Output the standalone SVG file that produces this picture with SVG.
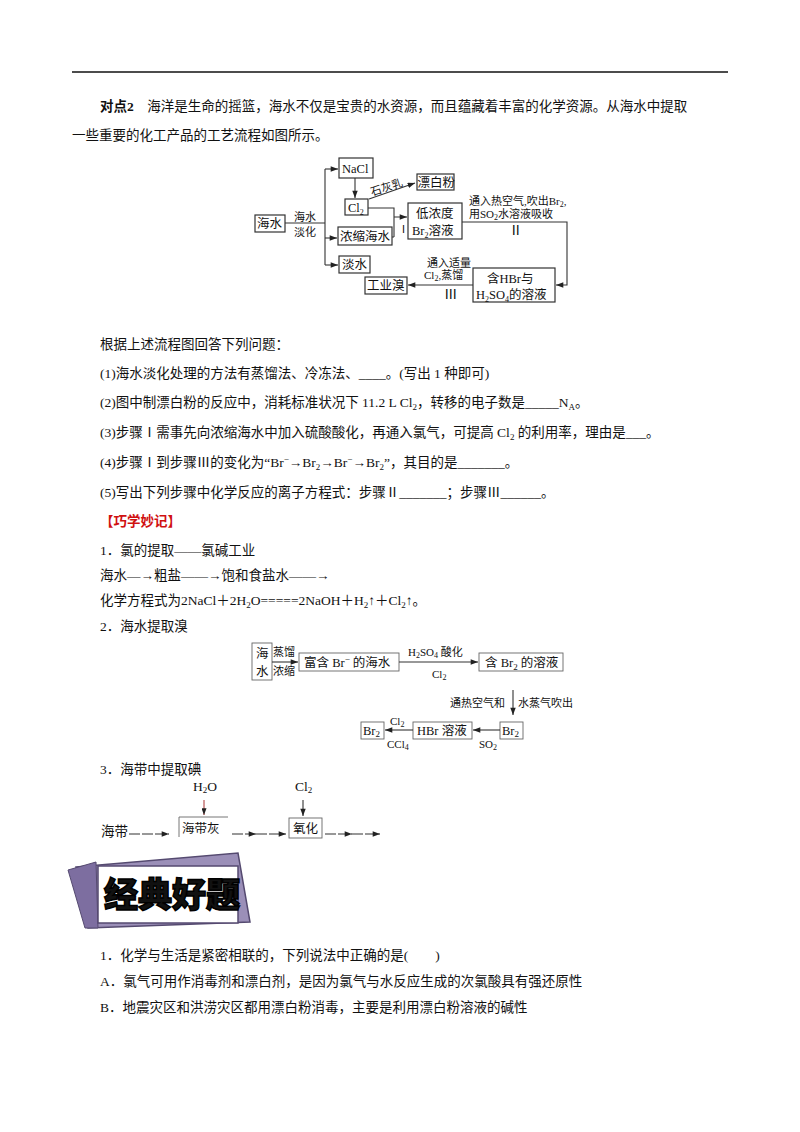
<svg xmlns="http://www.w3.org/2000/svg" width="800" height="1132" viewBox="0 0 800 1132">
<defs>
<marker id="a" viewBox="0 0 8 6" refX="8" refY="3" markerWidth="7" markerHeight="5" orient="auto"><path d="M0,0 L8,3 L0,6 z" fill="#222"/></marker>
<style>
text{font-family:"Liberation Serif","Noto Sans CJK SC",serif;fill:#111}
.t{font-size:13.5px}
.n{font-size:12.5px}
.s{font-size:11px}
.b{fill:#fff;stroke:#333;stroke-width:1.2}
.l{fill:none;stroke:#333;stroke-width:1.1}
.g{fill:none;stroke:#666;stroke-width:0.9}
</style>
</defs>
<rect width="800" height="1132" fill="#fff"/>
<line x1="72" y1="72" x2="728" y2="72" stroke="#111" stroke-width="1.3"/>
<text class="t" x="100" y="111"><tspan font-weight="bold">对点2</tspan>　海洋是生命的摇篮，海水不仅是宝贵的水资源，而且蕴藏着丰富的化学资源。从海水中提取</text>
<text class="t" x="72" y="140">一些重要的化工产品的工艺流程如图所示。</text>

<g id="diagram1">
<g id="n_haishui"><rect class="b" x="255" y="215" width="30" height="17"/><text class="n" x="257" y="228">海水</text></g>
<text class="s" x="294" y="221">海水</text><text class="s" x="294" y="236">淡化</text>
<g id="n_nacl"><rect class="b" x="339" y="158" width="34" height="20"/><text class="n" x="342" y="173">NaCl</text></g>
<g id="n_cl2"><rect class="b" x="345" y="199" width="23" height="16"/><text class="n" x="348" y="212">Cl<tspan font-size="8" dy="3">2</tspan></text></g>
<g id="n_piao"><rect class="b" x="417" y="174" width="37" height="16"/><text class="n" x="417.5" y="187">漂白粉</text></g>
<g id="n_nong"><rect class="b" x="338" y="227" width="54" height="18"/><text class="n" x="340" y="241">浓缩海水</text></g>
<g id="n_dan"><rect class="b" x="339" y="256" width="31" height="17"/><text class="n" x="342" y="269">淡水</text></g>
<g id="n_di"><rect class="b" x="408" y="203" width="54" height="36"/><text class="n" x="416" y="218">低浓度</text><text class="n" x="412" y="235">Br<tspan font-size="8" dy="3">2</tspan><tspan dy="-3">溶液</tspan></text></g>
<g id="n_hbr"><rect class="b" x="473" y="268" width="82" height="34"/><text class="n" x="487" y="283">含HBr与</text><text class="n" x="476" y="299">H<tspan font-size="8" dy="3">2</tspan><tspan dy="-3">SO</tspan><tspan font-size="8" dy="3">4</tspan><tspan dy="-3">的溶液</tspan></text></g>
<g id="n_gy"><rect class="b" x="365" y="277" width="42" height="17"/><text class="n" x="367" y="290">工业溴</text></g>
<g id="edges1">
<path class="l" d="M285,223 H325 M325,169 V265"/>
<path class="l" d="M325,169 H338" marker-end="url(#a)"/>
<path class="l" d="M325,238 H337" marker-end="url(#a)"/>
<path class="l" d="M325,265 H338" marker-end="url(#a)"/>
<path class="l" d="M355,178 V198" marker-end="url(#a)"/>
<path class="l" d="M369,199 L415,183" marker-end="url(#a)"/>
<path class="l" d="M368,208 H394 V237 M392,237 H394 M394,217 H407" marker-end="url(#a)"/>
<path class="l" d="M462,222 H567 V285 H556" marker-end="url(#a)"/>
<path class="l" d="M473,285 H408" marker-end="url(#a)"/>
</g>
<text class="s" x="372" y="196" transform="rotate(-18 372 196)">石灰乳</text>
<text class="s" x="398" y="233">Ⅰ</text>
<text class="s" x="469" y="205">通入热空气,吹出Br<tspan font-size="8" dy="2">2</tspan><tspan dy="-2">,</tspan></text>
<text class="s" x="469" y="218">用SO<tspan font-size="8" dy="2">2</tspan><tspan dy="-2">水溶液吸收</tspan></text>
<text class="t" x="509" y="235">Ⅱ</text>
<text class="s" x="427" y="267">通入适量</text>
<text class="s" x="424" y="279">Cl<tspan font-size="8" dy="2">2</tspan><tspan dy="-2">,蒸馏</tspan></text>
<text class="t" x="444" y="299">Ⅲ</text>
</g>

<text class="t" x="100" y="349">根据上述流程图回答下列问题：</text>
<text class="t" x="100" y="378">(1)海水淡化处理的方法有蒸馏法、冷冻法、____。(写出 1 种即可)</text>
<text class="t" x="100" y="407">(2)图中制漂白粉的反应中，消耗标准状况下 11.2 L Cl<tspan font-size="9" dy="3">2</tspan><tspan dy="-3">，转移的电子数是_____N</tspan><tspan font-size="9" dy="3">A</tspan><tspan dy="-3">。</tspan></text>
<text class="t" x="100" y="437">(3)步骤Ⅰ需事先向浓缩海水中加入硫酸酸化，再通入氯气，可提高 Cl<tspan font-size="9" dy="3">2</tspan><tspan dy="-3"> 的利用率，理由是___。</tspan></text>
<text class="t" x="100" y="467">(4)步骤Ⅰ到步骤Ⅲ的变化为“Br<tspan font-size="9" dy="-5">−</tspan><tspan dy="5">→Br</tspan><tspan font-size="9" dy="3">2</tspan><tspan dy="-3">→Br</tspan><tspan font-size="9" dy="-5">−</tspan><tspan dy="5">→Br</tspan><tspan font-size="9" dy="3">2</tspan><tspan dy="-3">”，其目的是_______。</tspan></text>
<text class="t" x="100" y="497">(5)写出下列步骤中化学反应的离子方程式：步骤Ⅱ_______；步骤Ⅲ______。</text>
<text class="t" x="100" y="526" font-weight="bold" style="fill:#d01010">【巧学妙记】</text>
<text class="t" x="100" y="555">1．氯的提取——氯碱工业</text>
<text class="t" x="100" y="580">海水—→粗盐——→饱和食盐水——→</text>
<text class="t" x="100" y="605">化学方程式为2NaCl＋2H<tspan font-size="9" dy="3">2</tspan><tspan dy="-3">O=====2NaOH＋H</tspan><tspan font-size="9" dy="3">2</tspan><tspan dy="-3">↑＋Cl</tspan><tspan font-size="9" dy="3">2</tspan><tspan dy="-3">↑。</tspan></text>
<text class="t" x="100" y="631">2．海水提取溴</text>

<g id="diagram2">
<g id="m_hs"><rect class="g" x="252" y="643" width="20" height="37"/><text class="n" x="256" y="658">海</text><text class="n" x="256" y="676">水</text></g>
<g id="m_fu"><rect class="g" x="299" y="653" width="100" height="18"/><text class="n" x="304" y="667">富含 Br<tspan font-size="9" dy="-5">−</tspan><tspan dy="5"> 的海水</tspan></text></g>
<g id="m_han"><rect class="g" x="479" y="653" width="84" height="18"/><text class="n" x="485" y="667">含 Br<tspan font-size="9" dy="3">2</tspan><tspan dy="-3"> 的溶液</tspan></text></g>
<g id="m_br2r"><rect class="g" x="500" y="722" width="23" height="17"/><text class="n" x="502" y="735">Br<tspan font-size="9" dy="2">2</tspan></text></g>
<g id="m_hbr"><rect class="g" x="413" y="722" width="59" height="17"/><text class="n" x="417" y="735">HBr 溶液</text></g>
<g id="m_br2l"><rect class="g" x="361" y="722" width="23" height="17"/><text class="n" x="363" y="735">Br<tspan font-size="9" dy="2">2</tspan></text></g>
<g id="edges2">
<path class="l" d="M272,662 H298" marker-end="url(#a)"/>
<path class="l" d="M399,662 H478" marker-end="url(#a)"/>
<path class="l" d="M513,690 V715" marker-end="url(#a)"/>
<path class="l" d="M500,730 H473" marker-end="url(#a)"/>
<path class="l" d="M413,730 H385" marker-end="url(#a)"/>
</g>
<text class="s" x="273" y="656">蒸馏</text><text class="s" x="273" y="675">浓缩</text>
<text class="s" x="408" y="656">H<tspan font-size="8" dy="2">2</tspan><tspan dy="-2">SO</tspan><tspan font-size="8" dy="2">4</tspan><tspan dy="-2"> 酸化</tspan></text>
<text class="s" x="432" y="678">Cl<tspan font-size="8" dy="2">2</tspan></text>
<text class="s" x="450" y="707">通热空气和</text>
<text class="s" x="518" y="707">水蒸气吹出</text>
<text class="s" x="479" y="748">SO<tspan font-size="8" dy="2">2</tspan></text>
<text class="s" x="390" y="725">Cl<tspan font-size="8" dy="2">2</tspan></text>
<text class="s" x="387" y="748">CCl<tspan font-size="8" dy="2">4</tspan></text>
</g>

<text class="t" x="100" y="774">3．海带中提取碘</text>
<g id="diagram3">
<text class="t" x="193" y="791">H<tspan font-size="9" dy="2">2</tspan><tspan dy="-2">O</tspan></text>
<text class="t" x="295" y="791">Cl<tspan font-size="9" dy="2">2</tspan></text>
<g id="k_hdh"><path class="g" d="M179,837 V817 H228"/><text class="n" x="182" y="833">海带灰</text></g>
<g id="k_yh"><rect class="g" x="289" y="818" width="33" height="20"/><text class="n" x="293" y="833">氧化</text></g>
<text class="t" x="101" y="836">海带</text>
<g id="edges3">
<path d="M204,800 V815" stroke="#a33" stroke-width="1" marker-end="url(#a)"/>
<path class="l" d="M303,800 V816" marker-end="url(#a)"/>
<path class="l" d="M129,834 H169" stroke-dasharray="11,2" marker-end="url(#a)"/>
<path class="l" d="M232,834 H256" stroke-dasharray="11,2" marker-end="url(#a)"/>
<path class="l" d="M256,834 H286" stroke-dasharray="11,2" marker-end="url(#a)"/>
<path class="l" d="M325,834 H352" stroke-dasharray="11,2" marker-end="url(#a)"/>
<path class="l" d="M352,834 H380" stroke-dasharray="11,2" marker-end="url(#a)"/>
</g>
</g>

<g id="badge">
<polygon points="76,867 238,853 250,922 88,928" fill="#9b8fb8" stroke="#554a70" stroke-width="1.5"/>
<polygon points="68,870 96,862 98,928 85,928" fill="#7d6ea0" stroke="#554a70"/>
<rect x="98" y="866" width="140" height="57" fill="#fff" stroke="#554a70" stroke-width="1.5"/>
<text x="104" y="907" font-size="34" font-weight="900" stroke="#000" stroke-width="1.5" style="font-family:'Noto Sans CJK SC',sans-serif">经典好题</text>
</g>

<text class="t" x="100" y="960">1．化学与生活是紧密相联的，下列说法中正确的是(　　)</text>
<text class="t" x="100" y="986">A．氯气可用作消毒剂和漂白剂，是因为氯气与水反应生成的次氯酸具有强还原性</text>
<text class="t" x="100" y="1012">B．地震灾区和洪涝灾区都用漂白粉消毒，主要是利用漂白粉溶液的碱性</text>
</svg>
